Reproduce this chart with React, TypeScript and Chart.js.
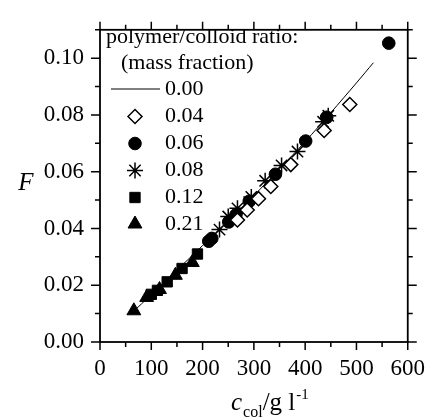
import React, { useEffect, useRef } from 'react';
import { Chart, registerables } from 'chart.js';
import { drawPoint } from 'chart.js/helpers';

Chart.register(...registerables);

const SERIF = "'Liberation Serif', 'Times New Roman', serif";

// fitted curve (ratio 0.00)
const fitX = [62, 100, 150, 200, 250, 300, 350, 400, 450, 500, 533];
const fitY = [0.0102, 0.0167, 0.0253, 0.034, 0.0428, 0.0516, 0.061, 0.0706, 0.0808, 0.0913, 0.0984];

// ratio 0.04 (open diamonds)
const x004 = [268, 287, 309, 333, 372, 437, 487];
const y004 = [0.043, 0.0465, 0.0505, 0.0548, 0.0625, 0.0745, 0.0837];

// ratio 0.06 (filled circles)
const x006 = [212, 218, 251, 265, 291, 342, 401, 442, 563];
const y006 = [0.0355, 0.0365, 0.0423, 0.0448, 0.0496, 0.0591, 0.0708, 0.0792, 0.1053];

// ratio 0.08 (asterisks)
const x008 = [233, 250, 268, 295, 322, 354, 385, 435, 445];
const y008 = [0.0396, 0.0442, 0.0471, 0.0511, 0.0568, 0.0622, 0.0671, 0.0776, 0.0797];

// ratio 0.12 (filled squares)
const x012 = [100, 112, 131, 160, 190];
const y012 = [0.0168, 0.0182, 0.0212, 0.0259, 0.031];

// ratio 0.21 (filled triangles)
const x021 = [66, 91, 116, 147, 180];
const y021 = [0.011, 0.0157, 0.0185, 0.0235, 0.028];

const xTickValues = [0, 100, 200, 300, 400, 500, 600];
const yTickValues = [0, 0.02, 0.04, 0.06, 0.08, 0.1];
const legendTitle = ['polymer/colloid ratio:', '(mass fraction)'];
const legendLabels = ['0.00', '0.04', '0.06', '0.08', '0.12', '0.21'];
const yTitle = 'F';
const xTitleMain = 'c';
const xTitleSub = 'col';
const xTitleMid = '/g l';
const xTitleSup = '-1';

const pts = (xs: number[], ys: number[]) => xs.map((x, i) => ({ x, y: ys[i] }));

const markerStyles = [
  { pointStyle: 'rectRot', radius: 7, bg: '#ffffff', borderWidth: 1.5 },
  { pointStyle: 'circle', radius: 6.3, bg: '#000000', borderWidth: 1 },
  { pointStyle: 'star', radius: 8, bg: '#000000', borderWidth: 1.5 },
  { pointStyle: 'rect', radius: 7.3, bg: '#000000', borderWidth: 1 },
  { pointStyle: 'triangle', radius: 8, bg: '#000000', borderWidth: 1 },
];

const series = [
  pts(x004, y004),
  pts(x006, y006),
  pts(x008, y008),
  pts(x012, y012),
  pts(x021, y021),
];

const framePlugin = {
  id: 'frameTicks',
  afterDraw(chart: any) {
    const ctx = chart.ctx;
    const { left, right, top, bottom } = chart.chartArea;
    const xs = chart.scales.x;
    const ys = chart.scales.y;
    ctx.save();
    ctx.strokeStyle = '#000';
    ctx.lineWidth = 1.8;
    ctx.strokeRect(left, top, right - left, bottom - top);
    ctx.lineWidth = 1.5;
    ctx.beginPath();
    for (let i = 0; i <= 12; i++) {
      const v = i * 50;
      const px = xs.getPixelForValue(v);
      const len = i % 2 === 0 ? 8 : 5;
      ctx.moveTo(px, bottom);
      ctx.lineTo(px, bottom + len);
      ctx.moveTo(px, top);
      ctx.lineTo(px, top - len);
    }
    for (let i = 0; i <= 11; i++) {
      const v = i * 0.01;
      const py = ys.getPixelForValue(v);
      const len = i % 2 === 0 ? 9 : 5;
      ctx.moveTo(left, py);
      ctx.lineTo(left - len, py);
      ctx.moveTo(right, py);
      ctx.lineTo(right + len, py);
    }
    ctx.stroke();

    // axis titles
    ctx.fillStyle = '#000';
    ctx.textBaseline = 'alphabetic';
    ctx.textAlign = 'left';
    ctx.font = `italic 25px ${SERIF}`;
    const fw = ctx.measureText(yTitle).width;
    ctx.fillText(yTitle, 26 - fw / 2, 190);

    let x0 = 231;
    const base = 410;
    ctx.font = `italic 25px ${SERIF}`;
    ctx.fillText(xTitleMain, x0, base);
    x0 += ctx.measureText(xTitleMain).width + 1;
    ctx.font = `16px ${SERIF}`;
    ctx.fillText(xTitleSub, x0, base + 7);
    x0 += ctx.measureText(xTitleSub).width;
    ctx.font = `25px ${SERIF}`;
    ctx.fillText(xTitleMid, x0, base);
    x0 += ctx.measureText(xTitleMid).width + 1;
    ctx.font = `15px ${SERIF}`;
    ctx.fillText(xTitleSup, x0, base - 11);

    // legend
    ctx.font = `22px ${SERIF}`;
    ctx.textBaseline = 'middle';
    ctx.fillText(legendTitle[0], 106, 37);
    ctx.fillText(legendTitle[1], 121, 63);
    const rowY = [89, 116.5, 143.5, 170.5, 197.5, 224];
    const symX = 135;
    ctx.lineWidth = 1;
    ctx.beginPath();
    ctx.moveTo(111, rowY[0]);
    ctx.lineTo(160, rowY[0]);
    ctx.stroke();
    ctx.fillText(legendLabels[0], 165, rowY[0]);
    for (let i = 0; i < markerStyles.length; i++) {
      const m = markerStyles[i];
      ctx.fillStyle = m.bg;
      ctx.strokeStyle = '#000';
      ctx.lineWidth = m.borderWidth;
      drawPoint(ctx, { pointStyle: m.pointStyle, radius: m.radius, rotation: 0, borderWidth: m.borderWidth } as any, symX, rowY[i + 1]);
      ctx.fillStyle = '#000';
      ctx.fillText(legendLabels[i + 1], 165, rowY[i + 1]);
    }
    ctx.restore();
  },
};

export default function App() {
  const ref = useRef<HTMLCanvasElement | null>(null);
  useEffect(() => {
    if (!ref.current) return;
    const datasets: any[] = series.map((data, i) => ({
      label: legendLabels[i + 1],
      data,
      showLine: false,
      pointStyle: markerStyles[i].pointStyle,
      pointRadius: markerStyles[i].radius,
      pointBackgroundColor: markerStyles[i].bg,
      pointBorderColor: '#000',
      pointBorderWidth: markerStyles[i].borderWidth,
    }));
    datasets.push({
      label: legendLabels[0],
      data: pts(fitX, fitY),
      showLine: true,
      borderColor: '#000',
      borderWidth: 1,
      pointRadius: 0,
      tension: 0.3,
    });
    const chart = new Chart(ref.current, {
      type: 'scatter',
      data: { datasets },
      options: {
        animation: false,
        responsive: false,
        layout: { padding: { top: 22, right: 19, left: 0, bottom: 0 } },
        plugins: { legend: { display: false }, tooltip: { enabled: false } },
        scales: {
          x: {
            type: 'linear',
            min: 0,
            max: 600,
            afterBuildTicks: (s: any) => { s.ticks = xTickValues.map((v) => ({ value: v })); },
            ticks: { font: { family: SERIF, size: 23 }, color: '#000', padding: 13, maxRotation: 0, callback: (v: any) => String(v) },
            grid: { display: false, drawTicks: false },
            border: { display: false },
            afterFit: (s: any) => { s.height = 75; },
          },
          y: {
            type: 'linear',
            min: 0,
            max: 0.11,
            afterBuildTicks: (s: any) => { s.ticks = yTickValues.map((v) => ({ value: v })); },
            ticks: { font: { family: SERIF, size: 23 }, color: '#000', padding: 16, callback: (v: any) => Number(v).toFixed(2) },
            grid: { display: false, drawTicks: false },
            border: { display: false },
            afterFit: (s: any) => { s.width = 100; },
          },
        },
      },
      plugins: [framePlugin],
    } as any);
    return () => chart.destroy();
  }, []);
  return (
    <div style={{ position: 'fixed', left: 0, top: 0, width: 438, height: 417, background: '#fff' }}>
      <canvas ref={ref} width={438} height={417} style={{ display: 'block' }} />
    </div>
  );
}
